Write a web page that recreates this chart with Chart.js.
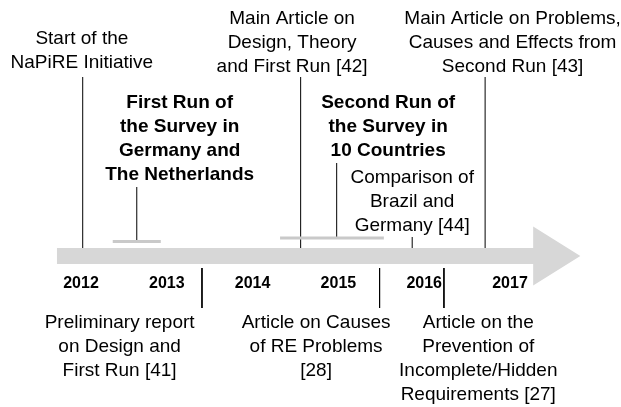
<!DOCTYPE html>
<html>
<head>
<meta charset="utf-8">
<script src="https://cdn.jsdelivr.net/npm/chart.js@4.4.0/dist/chart.umd.min.js"></script>
<style>
  html, body { margin: 0; padding: 0; background: #fff; }
  #wrap { width: 621px; height: 407px; }
</style>
</head>
<body>
<div id="wrap"><canvas id="timeline"></canvas></div>
<script>
const years = [2012, 2013, 2014, 2015, 2016, 2017];

const eventLabels = [
    ['Start of the', 'NaPiRE Initiative'],
    ['First Run of', 'the Survey in', 'Germany and', 'The Netherlands'],
    ['Preliminary report', 'on Design and', 'First Run [41]'],
    ['Main Article on', 'Design, Theory', 'and First Run [42]'],
    ['Second Run of', 'the Survey in', '10 Countries'],
    ['Article on Causes', 'of RE Problems', '[28]'],
    ['Comparison of', 'Brazil and', 'Germany [44]'],
    ['Article on the', 'Prevention of', 'Incomplete/Hidden', 'Requirements [27]'],
    ['Main Article on Problems,', 'Causes and Effects from', 'Second Run [43]']
];
// when each event happened (fractional year)
const eventDates = [2012.02, 2012.65, 2013.41, 2014.56, 2014.98, 2015.48, 2015.86, 2016.23, 2016.71];
const isSurveyRun = [false, true, false, false, true, false, false, false, false];
// how long the two survey runs lasted
const runStart = [2012.37, 2014.32];
const runEnd = [2012.93, 2015.53];

// ---- layout (y = px above the arrow centre line) ----
const stemFrom = [8, 15, -12, 8, 19, -12, 8, -12, 8];
const stemTo = [179, 69, -52, 179, 93, -52, 19, -52, 179];
const runBarY = [14.5, 18];
const labelX = [2012.01, 2013.15, 2012.45, 2014.46, 2015.58, 2014.74, 2015.86, 2016.63, 2017.03];
const labelY = [217, 153, -67, 237, 153, -67, 78, -67, 237];
const lineStep = 24;

const arrowX = [2011.72, 2017.27, 2017.27, 2017.82, 2017.27, 2017.27, 2011.72];
const arrowY = [8, 8, 29.5, 0, -29.5, -8, -8];

const pxPerYear = 85.8;
const xMin = 2012 - 81 / pxPerYear;
const xMax = xMin + 621 / pxPerYear;
const fontFamily = '"Liberation Sans", Arial, Helvetica, sans-serif';

const datasets = [];

datasets.push({
    data: arrowX.map((x, i) => ({ x, y: arrowY[i] })),
    showLine: true,
    fill: 'shape',
    backgroundColor: '#d7d7d7',
    borderColor: 'rgba(0,0,0,0)',
    borderWidth: 0,
    pointRadius: 0
});

runStart.forEach((s, i) => {
    datasets.push({
        data: [{ x: s, y: runBarY[i] }, { x: runEnd[i], y: runBarY[i] }],
        showLine: true,
        borderColor: '#c9c9c9',
        borderWidth: 3,
        pointRadius: 0
    });
});

eventDates.forEach((d, i) => {
    datasets.push({
        data: [{ x: d, y: stemFrom[i] }, { x: d, y: stemTo[i] }],
        showLine: true,
        borderColor: '#000',
        borderWidth: 1,
        pointRadius: 0
    });
});

const labelPlugin = {
    id: 'eventLabels',
    afterDatasetsDraw(chart) {
        const { ctx, scales: { x, y } } = chart;
        ctx.save();
        ctx.fillStyle = '#000';
        ctx.textAlign = 'center';
        ctx.textBaseline = 'middle';
        eventLabels.forEach((lines, i) => {
            ctx.font = (isSurveyRun[i] ? 'bold ' : '') + '19px ' + fontFamily;
            lines.forEach((t, j) => {
                ctx.fillText(t, x.getPixelForValue(labelX[i]), y.getPixelForValue(labelY[i] - j * lineStep));
            });
        });
        ctx.restore();
    }
};

new Chart(document.getElementById('timeline'), {
    type: 'scatter',
    data: { datasets },
    options: {
        responsive: true,
        maintainAspectRatio: false,
        animation: false,
        layout: { padding: 0 },
        plugins: { legend: { display: false }, tooltip: { enabled: false } },
        scales: {
            x: {
                type: 'linear',
                min: xMin,
                max: xMax,
                position: { y: 0 },
                grid: { display: false },
                border: { display: false },
                afterBuildTicks: s => { s.ticks = years.map(v => ({ value: v })); },
                ticks: {
                    padding: 10,
                    autoSkip: false,
                    maxRotation: 0,
                    color: '#000',
                    font: { family: fontFamily, size: 16, weight: 'bold' },
                    callback: v => String(v)
                }
            },
            y: { type: 'linear', min: -151, max: 256, display: false }
        }
    },
    plugins: [labelPlugin]
});
</script>
</body>
</html>
